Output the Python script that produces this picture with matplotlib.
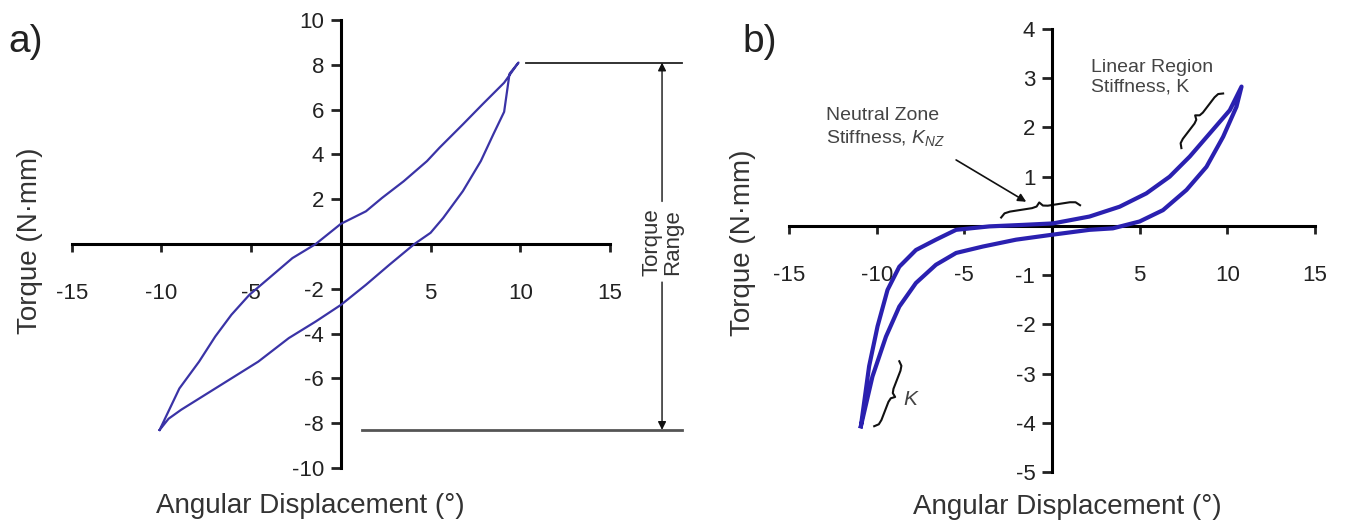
import numpy as np
import matplotlib
matplotlib.use('Agg')
import matplotlib.pyplot as plt

plt.rcParams['font.family'] = ['Liberation Sans', 'DejaVu Sans']
plt.rcParams['mathtext.fontset'] = 'custom'
plt.rcParams['mathtext.it'] = 'Liberation Sans:italic'
plt.rcParams['mathtext.rm'] = 'Liberation Sans'
plt.rcParams['axes.unicode_minus'] = False

# ============================================
# DATA
# ============================================

# panel a: hysteresis loop, loading then unloading branch
a_load_x = [-10.1, -9.6, -8.9, -7.6, -6.1, -4.6, -2.9, -1.4, 0.0, 1.4, 2.7,
            4.1, 5.0, 5.7, 6.8, 7.8, 8.5, 9.1, 9.4, 9.9]
a_load_y = [-8.3, -7.8, -7.4, -6.75, -6.0, -5.25, -4.2, -3.46, -2.72, -1.82,
            -0.93, 0.0, 0.5, 1.16, 2.36, 3.7, 4.9, 5.9, 7.6, 8.1]
a_unload_x = [9.1, 7.9, 6.8, 5.5, 4.8, 3.5, 2.3, 1.4, 0.0, -1.4, -2.7, -4.0,
              -5.1, -6.1, -7.0, -7.9, -9.0, -10.1]
a_unload_y = [7.2, 6.24, 5.34, 4.3, 3.7, 2.8, 2.06, 1.46, 0.9, 0.0, -0.63,
              -1.52, -2.27, -3.16, -4.13, -5.25, -6.45, -8.3]

# panel b: loop with neutral zone
b_load_x = [-10.9, -10.24, -9.47, -8.71, -7.76, -6.62, -5.47, -3.95, -2.05,
            0.0, 2.14, 3.47, 5.0, 6.33, 7.67, 8.81, 9.76, 10.52, 10.81]
b_load_y = [-4.07, -3.06, -2.25, -1.64, -1.16, -0.79, -0.55, -0.42, -0.28,
            -0.18, -0.08, -0.05, 0.09, 0.32, 0.73, 1.20, 1.81, 2.42, 2.83]
b_unload_x = [10.14, 9.0, 7.86, 6.71, 5.38, 3.86, 2.14, 0.05, -1.68, -3.57,
              -5.47, -6.62, -7.76, -8.71, -9.38, -9.95, -10.43, -10.9]
b_unload_y = [2.35, 1.88, 1.41, 1.0, 0.66, 0.39, 0.19, 0.05, 0.02, -0.01,
              -0.08, -0.28, -0.49, -0.83, -1.30, -2.04, -2.85, -4.07]

x_ticks = [-15, -10, -5, 5, 10, 15]
a_yticks = [-10, -8, -6, -4, -2, 2, 4, 6, 8, 10]
b_yticks = [-5, -4, -3, -2, -1, 1, 2, 3, 4]

# torque range markers (panel a)
torque_max = 8.1
torque_min = -8.3

# brace end points (panel b)
nz_brace = [(-2.9, 0.17), (1.6, 0.42)]
lin_brace = [(7.38, 1.58), (9.76, 2.69)]
k_brace = [(-10.14, -4.07), (-8.71, -2.75)]

XLABEL = 'Angular Displacement (°)'
YLABEL = 'Torque (N·mm)'

# ============================================
# HELPERS
# ============================================

def style_axes(ax, ylim, yticks):
    ax.set_xlim(-15, 15)
    ax.set_ylim(*ylim)
    for s in ['top', 'right']:
        ax.spines[s].set_visible(False)
    ax.spines['left'].set_position(('data', 0))
    ax.spines['bottom'].set_position(('data', 0))
    ax.spines['left'].set_linewidth(2.2)
    ax.spines['bottom'].set_linewidth(2.2)
    ax.xaxis.set_ticks_position('bottom')
    ax.yaxis.set_ticks_position('left')
    ax.set_xticks(x_ticks)
    ax.set_yticks(yticks)
    ax.tick_params(axis='x', direction='out', length=6, width=2,
                   pad=22, labelsize=16, colors='#222')
    ax.tick_params(axis='y', direction='out', length=7, width=2,
                   pad=5, labelsize=16, colors='#222')
    ax.patch.set_alpha(0)


def brace(ax, p0, p1, height_px, side=1):
    """Curly brace between two data points, bump offset in pixels."""
    T = ax.transData
    a = T.transform(p0)
    b = T.transform(p1)
    d = b - a
    L = np.hypot(*d)
    u = d / L
    n = np.array([-u[1], u[0]]) * side
    t = np.array([0, 0.05, 0.12, 0.40, 0.46, 0.5, 0.54, 0.60, 0.88, 0.95, 1.0])
    h = np.array([0, 0.4, 0.5, 0.5, 0.6, 1.0, 0.6, 0.5, 0.5, 0.4, 0]) * height_px
    pts = a + np.outer(t * L, u) + np.outer(h, n)
    data = T.inverted().transform(pts)
    ax.plot(data[:, 0], data[:, 1], color='#111', lw=1.5, clip_on=False)


# ============================================
# FIGURE
# ============================================

W, H = 1346, 525
fig = plt.figure(figsize=(W / 100, H / 100), dpi=100)

ax_a = fig.add_axes([71.7 / W, 1 - 468 / H, 538.3 / W, 448 / H])
ax_b = fig.add_axes([789 / W, 1 - 472 / H, 526 / W, 443 / H])

# --- panel a ---
style_axes(ax_a, (-10, 10), a_yticks)
ax_a.plot(a_load_x + a_unload_x, a_load_y + a_unload_y,
          color='#3a33a6', lw=1.6, zorder=3)

ax_a.plot([10.3, 19.0], [torque_max, torque_max], color='#222', lw=1.3,
          clip_on=False)
ax_a.plot([1.2, 19.0], [torque_min, torque_min], color='#555', lw=2,
          clip_on=False)
ax_a.annotate('', xy=(17.9, torque_max), xytext=(17.9, 1.9),
              arrowprops=dict(arrowstyle='-|>', color='#111', lw=1,
                              mutation_scale=12, shrinkA=0, shrinkB=0),
              annotation_clip=False)
ax_a.annotate('', xy=(17.9, torque_min), xytext=(17.9, -1.7),
              arrowprops=dict(arrowstyle='-|>', color='#111', lw=1,
                              mutation_scale=12, shrinkA=0, shrinkB=0),
              annotation_clip=False)
ax_a.text(17.9, 0.1, 'Torque\nRange', rotation=90, ha='center', va='center',
          fontsize=16, linespacing=0.95, color='#333', clip_on=False)

# --- panel b ---
style_axes(ax_b, (-5, 4), b_yticks)
ax_b.plot(b_load_x + b_unload_x, b_load_y + b_unload_y,
          color='#2a20b0', lw=3, zorder=3)

ax_b.text(-12.9, 2.42, 'Neutral Zone\nStiffness, $K_{NZ}$', ha='left',
          va='top', fontsize=14, color='#444', linespacing=1.25)
ax_b.annotate('', xy=(-1.47, 0.49), xytext=(-5.47, 1.34),
              arrowprops=dict(arrowstyle='-|>', color='#111', lw=1.2,
                              mutation_scale=12, shrinkA=0, shrinkB=0))
ax_b.text(2.24, 3.4, 'Linear Region\nStiffness, K', ha='left', va='top',
          fontsize=14, color='#444', linespacing=1.25)
ax_b.text(-8.05, -3.53, '$K$', ha='center', va='center', fontsize=15,
          color='#444')

brace(ax_b, *nz_brace, height_px=9, side=1)
brace(ax_b, *lin_brace, height_px=9, side=1)
brace(ax_b, *k_brace, height_px=9, side=-1)

# --- labels ---
fig.text(310 / W, 1 - 506 / H, XLABEL, ha='center', va='center',
         fontsize=20, color='#333')
fig.text(1067 / W, 1 - 507 / H, XLABEL, ha='center', va='center',
         fontsize=20, color='#333')
fig.text(30 / W, 1 - 241 / H, YLABEL, ha='center', va='center',
         rotation=90, fontsize=20, color='#333')
fig.text(743 / W, 1 - 243 / H, YLABEL, ha='center', va='center',
         rotation=90, fontsize=20, color='#333')
fig.text(8 / W, 1 - 42 / H, 'a)', ha='left', va='center', fontsize=28,
         color='#222')
fig.text(742 / W, 1 - 42 / H, 'b)', ha='left', va='center', fontsize=28,
         color='#222')

fig.savefig('out.png', dpi=100)
